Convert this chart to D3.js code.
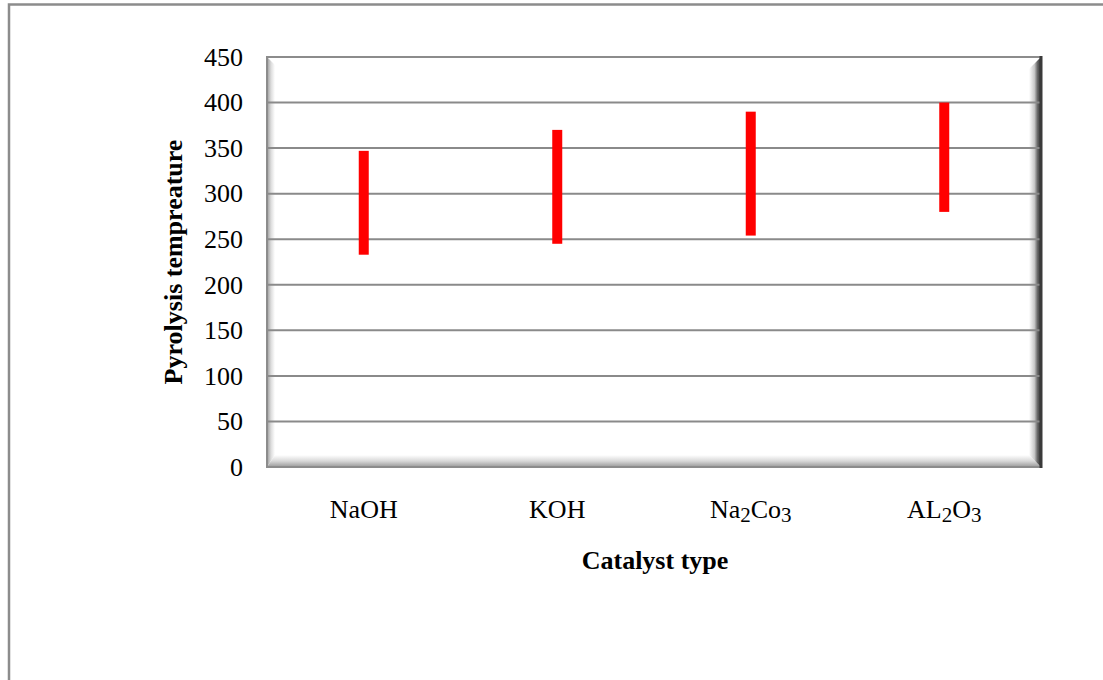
<!DOCTYPE html>
<html>
<head>
<meta charset="utf-8">
<script src="https://cdn.jsdelivr.net/npm/d3@7"></script>
<style>
  body { margin: 0; background: #fff; }
  svg text { font-family: "Liberation Serif", "Times New Roman", serif; fill: #000; }
</style>
</head>
<body>
<div id="container"></div>
<script>
/* DATA */
const categories = ["NaOH", "KOH", "Na2Co3", "AL2O3"];
const lowTemps = [233, 245, 254, 280];
const highTemps = [347, 370, 390, 400];
const yTicks = [0, 50, 100, 150, 200, 250, 300, 350, 400, 450];

const data = categories.map((c, i) => ({ cat: c, low: lowTemps[i], high: highTemps[i] }));

/* CONSTANTS */
const width = 1103;
const height = 680;
const plotL = 267, plotR = 1041, plotT = 57, plotB = 467;
const wall = 8, floor = 12, rwall = 12;
const serif = "Liberation Serif, Times New Roman, serif";

/* SCALES */
const xScale = d3.scaleBand()
  .domain(categories)
  .range([plotL, plotR])
  .padding(0);

const yScale = d3.scaleLinear()
  .domain([0, 450])
  .range([plotB, plotT]);

/* SVG */
const svg = d3.select("#container")
  .append("svg")
  .attr("width", width)
  .attr("height", height)
  .attr("font-family", serif);

const defs = svg.append("defs");
function grad(id, x1, y1, x2, y2, stops) {
  const g = defs.append("linearGradient").attr("id", id)
    .attr("x1", x1).attr("y1", y1).attr("x2", x2).attr("y2", y2);
  stops.forEach(s => g.append("stop").attr("offset", s[0]).attr("stop-color", s[1]));
}
grad("gLeft", 0, 0, 1, 0, [[0, "#9a9a9a"], [0.5, "#dcdcdc"], [1, "#ffffff"]]);
grad("gFloor", 0, 0, 0, 1, [[0, "#ffffff"], [0.5, "#d8d8d8"], [1, "#9a9a9a"]]);
grad("gRight", 0, 0, 1, 0, [[0, "#ffffff"], [0.45, "#c8c8c8"], [0.7, "#6a6a6a"], [1, "#2e2e2e"]]);

// outer chart border
svg.append("path")
  .attr("d", `M9,${height} L9,4.5 L${width},4.5`)
  .attr("fill", "none")
  .attr("stroke", "#8c8c8c")
  .attr("stroke-width", 2.5);

// plot area background + bevel walls
svg.append("rect")
  .attr("x", plotL).attr("y", plotT)
  .attr("width", plotR - plotL).attr("height", plotB - plotT)
  .attr("fill", "#fff");

svg.append("polygon")
  .attr("points", [[plotL, plotT], [plotL + wall, plotT + wall], [plotL + wall, plotB - floor], [plotL, plotB]].join(" "))
  .attr("fill", "url(#gLeft)");
svg.append("polygon")
  .attr("points", [[plotL, plotB], [plotL + wall, plotB - floor], [plotR - rwall, plotB - floor], [plotR, plotB]].join(" "))
  .attr("fill", "url(#gFloor)");
svg.append("polygon")
  .attr("points", [[plotR, plotT], [plotR - rwall, plotT + rwall], [plotR - rwall, plotB - floor], [plotR, plotB]].join(" "))
  .attr("fill", "url(#gRight)");

// gridlines
svg.append("g")
  .selectAll("line")
  .data(yTicks)
  .join("line")
  .attr("x1", plotL).attr("x2", plotR)
  .attr("y1", d => yScale(d)).attr("y2", d => yScale(d))
  .attr("stroke", "#8a8a8a")
  .attr("stroke-width", 2);

// frame
svg.append("rect")
  .attr("x", plotL).attr("y", plotT)
  .attr("width", plotR - plotL).attr("height", plotB - plotT)
  .attr("fill", "none")
  .attr("stroke", "#8c8c8c")
  .attr("stroke-width", 2);
svg.append("line")
  .attr("x1", plotR).attr("x2", plotR)
  .attr("y1", plotT - 1).attr("y2", plotB + 1)
  .attr("stroke", "#3a3a3a")
  .attr("stroke-width", 3);

// bars
const barW = 10;
svg.selectAll("rect.bar")
  .data(data)
  .join("rect")
  .attr("class", "bar")
  .attr("x", d => xScale(d.cat) + xScale.bandwidth() / 2 - barW / 2)
  .attr("width", barW)
  .attr("y", d => yScale(d.high))
  .attr("height", d => yScale(d.low) - yScale(d.high))
  .attr("fill", "#ff0000");

// y axis
const yAxisGroup = svg.append("g")
  .attr("transform", `translate(${plotL},0)`)
  .call(d3.axisLeft(yScale).tickValues(yTicks).tickSize(0).tickPadding(24));
yAxisGroup
  .attr("font-family", serif)
  .attr("font-size", 26);
yAxisGroup.select(".domain").remove();
yAxisGroup.selectAll("text")
  .attr("fill", "#000");

// x labels with subscripts
const xLabels = svg.append("g")
  .selectAll("text")
  .data(categories)
  .join("text")
  .attr("x", d => xScale(d) + xScale.bandwidth() / 2)
  .attr("y", 518)
  .attr("text-anchor", "middle")
  .attr("font-size", 26);

xLabels.each(function (d) {
  const t = d3.select(this);
  const parts = d.match(/[A-Za-z]+|\d+/g);
  parts.forEach(p => {
    if (/^\d+$/.test(p)) {
      t.append("tspan").text(p).attr("dy", 4).attr("font-size", 21);
    } else {
      const s = t.append("tspan").text(p);
      if (t.selectAll("tspan").size() > 1) s.attr("dy", -4);
    }
  });
});

// axis titles
svg.append("text")
  .attr("x", 655)
  .attr("y", 569)
  .attr("text-anchor", "middle")
  .attr("font-size", 26)
  .attr("font-weight", "bold")
  .text("Catalyst type");

svg.append("text")
  .attr("transform", "translate(182,262) rotate(-90)")
  .attr("text-anchor", "middle")
  .attr("font-size", 26)
  .attr("font-weight", "bold")
  .text("Pyrolysis tempreature");
</script>
</body>
</html>
